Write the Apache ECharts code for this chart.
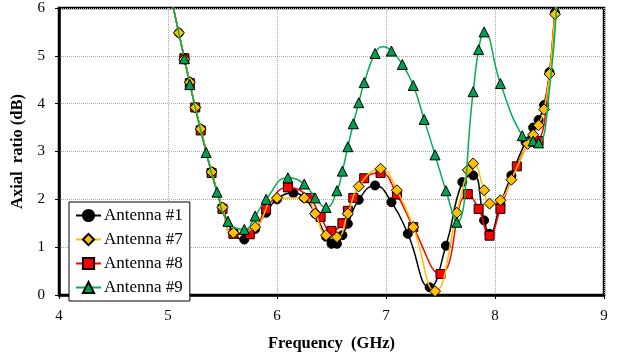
<!DOCTYPE html>
<html>
<head>
<meta charset="utf-8">
<script src="https://cdn.jsdelivr.net/npm/echarts@6/dist/echarts.min.js"></script>
<style>
html,body{margin:0;padding:0;background:#fff;}
#chart{width:619px;height:357px;}
</style>
</head>
<body>
<div id="chart"></div>
<script>
// Frequency (GHz) / axial ratio (dB) for each antenna (values above 6 dB are clipped off-chart)
const freq1 = [5.03,5.10,5.15,5.20,5.25,5.30,5.40,5.50,5.60,5.70,5.80,5.90,6.00,6.15,6.25,6.35,6.45,6.50,6.55,6.60,6.65,6.75,6.90,7.05,7.20,7.40,7.55,7.70,7.80,7.90,7.95,8.05,8.15,8.28,8.35,8.40,8.45,8.50,8.55,8.575];
const ar1   = [6.2,5.48,4.95,4.45,3.92,3.47,2.58,1.83,1.30,1.16,1.38,1.72,2.00,2.13,2.03,1.70,1.22,1.07,1.07,1.25,1.49,1.99,2.29,1.94,1.28,0.16,1.03,2.36,2.50,1.56,1.28,1.90,2.50,3.20,3.50,3.66,3.97,4.66,5.90,6.4];

const freq7 = [5.03,5.10,5.15,5.20,5.25,5.30,5.40,5.50,5.60,5.80,6.00,6.25,6.35,6.45,6.55,6.65,6.75,6.95,7.10,7.25,7.45,7.65,7.75,7.80,7.90,7.95,8.05,8.15,8.30,8.35,8.40,8.45,8.50,8.55,8.575];
const ar7   = [6.2,5.48,4.93,4.45,3.92,3.47,2.57,1.83,1.30,1.42,2.03,2.03,1.70,1.25,1.21,1.70,2.27,2.64,2.19,1.42,0.08,1.72,2.61,2.75,2.19,1.91,1.98,2.41,3.16,3.35,3.55,3.88,4.62,5.87,6.4];

const freq8 = [5.03,5.15,5.20,5.25,5.30,5.40,5.50,5.60,5.75,5.90,6.10,6.30,6.40,6.50,6.60,6.65,6.70,6.80,6.95,7.10,7.25,7.50,7.75,7.85,7.95,8.05,8.20,8.35,8.40,8.50,8.55,8.575];
const ar8   = [6.2,4.95,4.43,3.92,3.44,2.55,1.80,1.28,1.27,1.80,2.25,2.03,1.63,1.34,1.50,1.76,2.03,2.44,2.55,2.10,1.42,0.44,2.11,1.80,1.24,1.80,2.69,3.20,3.22,4.62,5.88,6.4];
const unmarked8 = [8.50, 8.55]; // curve-only points without a marker

const freq9 = [5.03,5.15,5.20,5.35,5.45,5.55,5.70,5.80,5.90,6.10,6.25,6.35,6.45,6.55,6.60,6.65,6.70,6.75,6.80,6.90,6.97,7.05,7.15,7.25,7.35,7.45,7.55,7.65,7.80,7.85,7.90,8.05,8.25,8.35,8.40,8.50,8.575];
const ar9   = [6.2,4.94,4.40,2.98,2.15,1.54,1.37,1.65,2.00,2.45,2.32,2.03,1.83,2.18,2.59,3.10,3.58,4.02,4.44,5.05,5.19,5.10,4.82,4.38,3.67,2.93,2.18,1.52,4.25,5.13,5.50,4.42,3.33,3.22,3.18,4.30,6.5];
const unmarked9 = [6.97, 8.50]; // curve-only points without a marker

const seriesNames = ['Antenna #1','Antenna #7','Antenna #8','Antenna #9'];
const xTicks = [4,5,6,7,8,9];
const yTicks = [0,1,2,3,4,5,6];

const SERIF = '"Liberation Serif","Times New Roman",serif';

function pairs(xs, ys, unmarked) {
  return xs.map((x, i) => {
    if (unmarked && unmarked.indexOf(x) >= 0) return {value:[x, ys[i]], symbol:'none'};
    return [x, ys[i]];
  });
}

function mkSeries(name, data, lineColor, fillColor, symbol, size, z) {
  return {
    name: name,
    type: 'line',
    data: data,
    smooth: 0.5,
    clip: true,
    z: z,
    symbol: symbol,
    symbolSize: size,
    showAllSymbol: true,
    lineStyle: {color: lineColor, width: 1.5},
    itemStyle: {color: fillColor, borderColor: '#000', borderWidth: 1},
    emphasis: {disabled: true},
    animation: false
  };
}

const chart = echarts.init(document.getElementById('chart'), null, {renderer:'canvas'});
chart.setOption({
  animation: false,
  backgroundColor: '#fff',
  grid: {left: 59, right: 15, top: 8, bottom: 60, show: true, borderColor: '#000', borderWidth: 2.5, backgroundColor: 'transparent'},
  legend: {
    data: seriesNames,
    orient: 'vertical',
    left: 69, top: 202,
    backgroundColor: '#fff',
    borderColor: '#000',
    borderWidth: 1,
    borderRadius: 0,
    padding: [5, 7, 5, 6],
    itemWidth: 25,
    itemHeight: 14,
    itemGap: 7,
    z: 10,
    textStyle: {fontFamily: SERIF, fontSize: 17, color: '#000', padding: [0,0,0,-2]}
  },
  xAxis: {
    type: 'value', min: xTicks[0], max: xTicks[xTicks.length-1], interval: 1,
    name: 'Frequency  (GHz)', nameLocation: 'middle', nameGap: 40,
    nameTextStyle: {fontFamily: SERIF, fontSize: 16.5, fontWeight: 'bold', color: '#000'},
    axisLine: {show: true, lineStyle: {color: '#000', width: 2.5}},
    axisTick: {show: true, length: 4, lineStyle: {color: '#000'}},
    axisLabel: {fontFamily: SERIF, fontSize: 15, color: '#000', margin: 14},
    splitLine: {show: true, lineStyle: {color: '#aaa', type: 'dotted', width: 1}}
  },
  yAxis: {
    type: 'value', min: yTicks[0], max: yTicks[yTicks.length-1], interval: 1,
    name: 'Axial  ratio (dB)', nameLocation: 'middle', nameGap: 25,
    nameTextStyle: {fontFamily: SERIF, fontSize: 16.5, fontWeight: 'bold', color: '#000'},
    axisLine: {show: true, lineStyle: {color: '#000', width: 2.5}},
    axisTick: {show: true, length: 4, lineStyle: {color: '#000'}},
    axisLabel: {fontFamily: SERIF, fontSize: 15, color: '#000', margin: 14},
    splitLine: {show: true, lineStyle: {color: '#aaa', type: 'dotted', width: 1}}
  },
  series: [
    mkSeries(seriesNames[0], pairs(freq1, ar1), '#000000', '#000000', 'circle', 9, 2),
    mkSeries(seriesNames[1], pairs(freq7, ar7), '#FFC000', '#FFC000', 'diamond', 11, 4),
    mkSeries(seriesNames[2], pairs(freq8, ar8, unmarked8), '#FF0000', '#FF0000', 'rect', 9, 3),
    mkSeries(seriesNames[3], pairs(freq9, ar9, unmarked9), '#00B050', '#00A050', 'triangle', 10, 5)
  ]
});
</script>
</body>
</html>
